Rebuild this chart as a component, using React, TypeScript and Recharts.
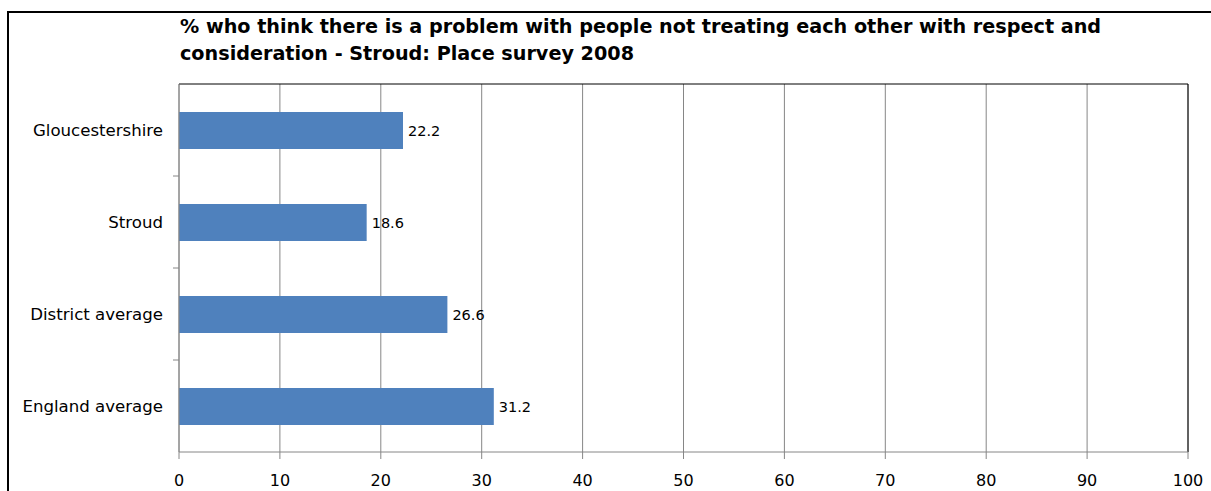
import React from 'react';
import { BarChart, Bar, XAxis, YAxis, CartesianGrid, ReferenceLine, LabelList } from 'recharts';

const categories = ['Gloucestershire', 'Stroud', 'District average', 'England average'];
const values = [22.2, 18.6, 26.6, 31.2];
const xTicks = [0, 10, 20, 30, 40, 50, 60, 70, 80, 90, 100];

const TITLE_1 = '% who think there is a problem with people not treating each other with respect and';
const TITLE_2 = 'consideration - Stroud: Place survey 2008';

const data = categories.map((name, i) => ({ name, value: values[i] }));

const FONT = '"DejaVu Sans", Tahoma, sans-serif';

// label plus the small tick between bands (Excel puts category ticks on the band edges)
const CategoryTick = (props: any) => {
  const { x, y, payload, index, height, visibleTicksCount } = props;
  const half = payload && payload.offset ? payload.offset : height / (visibleTicksCount || categories.length) / 2;
  return (
    <g>
      {index > 0 && <line x1={x - 6} x2={x} y1={y - half} y2={y - half} stroke="#868686" />}
      <text x={x - 16} y={y} dy={6} textAnchor="end" fontSize={16.6} fontFamily={FONT} fill="#000">
        {payload.value}
      </text>
    </g>
  );
};

const App: React.FC = () => {
  return (
    <div style={{ position: 'absolute', left: 0, top: 0, width: 1211, height: 491, background: '#fff', overflow: 'hidden' }}>
      {/* outer frame, runs off the right and bottom edge */}
      <div style={{ position: 'absolute', left: 7, top: 11, width: 1220, height: 500, borderLeft: '2px solid #000', borderTop: '2px solid #000' }} />
      <div style={{ position: 'absolute', left: 180, top: 13, fontFamily: FONT, fontWeight: 'bold', fontSize: 19.2, lineHeight: '27px', color: '#000', whiteSpace: 'nowrap' }}>
        <div>{TITLE_1}</div>
        <div>{TITLE_2}</div>
      </div>
      <div style={{ position: 'absolute', left: 0, top: 0 }}>
        <BarChart
          width={1211}
          height={491}
          data={data}
          layout="vertical"
          margin={{ top: 84, right: 23, left: 0, bottom: 0 }}
          barSize={37}
        >
          <CartesianGrid horizontal={false} vertical={true} stroke="#868686" strokeWidth={1} />
          <CartesianGrid
            horizontal={true}
            vertical={false}
            stroke="#000"
            strokeWidth={1}
            horizontalCoordinatesGenerator={({ offset }: any) => [offset.top]}
          />
          <XAxis
            type="number"
            domain={[0, 100]}
            ticks={xTicks}
            interval={0}
            height={39}
            axisLine={{ stroke: '#868686' }}
            tickLine={{ stroke: '#868686' }}
            tickSize={7}
            tickMargin={16}
            tick={{ fontSize: 16, fontFamily: FONT, fill: '#000' }}
          />
          <YAxis
            type="category"
            dataKey="name"
            width={179}
            axisLine={{ stroke: '#868686' }}
            tickLine={false}
            tickSize={0}
            tickMargin={0}
            interval={0}
            tick={<CategoryTick />}
          />
          <ReferenceLine x={100} stroke="#000" strokeWidth={1} />
          <Bar dataKey="value" fill="#4F81BD" isAnimationActive={false}>
            <LabelList dataKey="value" position="right" offset={5} fontSize={14.5} fontFamily={FONT} fill="#000" formatter={(v: any) => Number(v).toFixed(1)} />
          </Bar>
        </BarChart>
      </div>
    </div>
  );
};

export default App;
